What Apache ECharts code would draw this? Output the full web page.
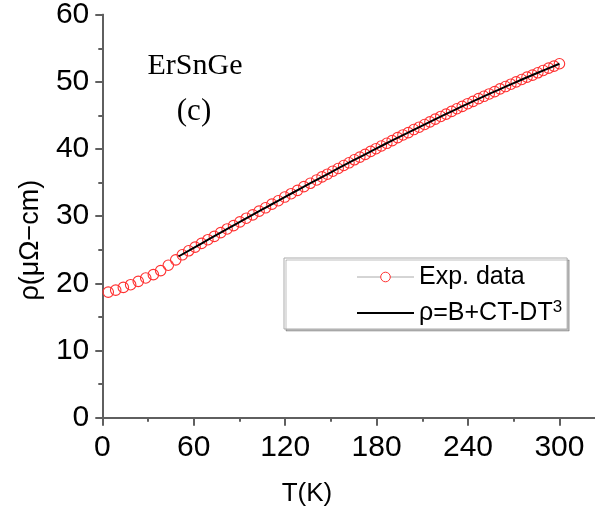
<!DOCTYPE html>
<html><head><meta charset="utf-8">
<script src="https://cdn.jsdelivr.net/npm/echarts@6/dist/echarts.min.js"></script>
<style>html,body{margin:0;padding:0;background:#fff}#c{width:595px;height:513px}</style>
</head><body><div id="c"></div>
<script>
// Experimental data: temperature (K) and resistivity (µΩ-cm)
const expT = [3.9, 8.8, 13.8, 18.6, 23.6, 28.5, 33.5, 38.3, 43.3, 48.2,
  52.5, 56.7, 60.9, 65.1, 69.3, 73.5, 77.7, 81.9, 86.1, 90.3, 94.5, 98.7, 102.9, 107.1, 111.3, 115.5, 119.7, 123.9, 128.1, 132.3, 136.5, 140.7,
  144.2, 147.7, 151.3, 154.8, 158.4, 161.9, 165.4, 169.0, 172.5, 176.1, 179.6, 183.1, 186.7, 190.2, 193.8, 197.3, 200.8, 204.4, 207.9, 211.5,
  215.0, 218.5, 222.1, 225.6, 229.2, 232.7, 236.2, 239.8, 243.3, 246.9, 250.4, 253.9, 257.5, 261.0, 264.6, 268.1, 271.6, 275.2, 278.7, 282.3,
  285.8, 289.3, 292.9, 296.4, 300.0];
const expRho = [18.7, 19.0, 19.4, 19.8, 20.3, 20.8, 21.3, 21.9, 22.7, 23.5,
  24.25, 24.85, 25.4, 25.95, 26.5, 27.0, 27.55, 28.1, 28.6, 29.15, 29.7, 30.2, 30.75, 31.25, 31.8, 32.3, 32.85, 33.35, 33.85, 34.4, 34.9, 35.4,
  35.85, 36.25, 36.7, 37.1, 37.55, 37.95, 38.4, 38.8, 39.2, 39.65, 40.05, 40.45, 40.85, 41.25, 41.7, 42.1, 42.45, 42.9, 43.25, 43.65,
  44.05, 44.45, 44.85, 45.2, 45.6, 46.0, 46.35, 46.75, 47.1, 47.5, 47.85, 48.2, 48.55, 48.95, 49.3, 49.65, 50.0, 50.35, 50.7, 51.0,
  51.35, 51.7, 52.05, 52.35, 52.7];
// Fit curve rho = B + C*T - D*T^3
const fitT = [50, 60, 70, 80, 90, 100, 110, 120, 130, 140, 150, 160, 170, 180, 190, 200, 210, 220, 230, 240, 250, 260, 270, 280, 290, 300];
const fitRho = [24.0, 25.29, 26.57, 27.85, 29.12, 30.38, 31.63, 32.87, 34.11, 35.33, 36.54, 37.74, 38.92, 40.09, 41.25, 42.38, 43.5, 44.61, 45.69, 46.76, 47.8, 48.82, 49.82, 50.8, 51.75, 52.69];
const xMajor = [0, 60, 120, 180, 240, 300];
const xMinor = [30, 90, 150, 210, 270];
const expName = 'Exp. data';
const fitName = 'ρ=B+CT-DT³';

const AX = '#5f5f5f';
const RED = '#ff3030';
const FONT = '"Liberation Sans", Arial, sans-serif';
const gridBox = {left: 102.3, right: 0.5, top: 14.7, bottom: 95.3, outerBoundsMode: 'none'};
const xBase = {min: 0, max: 323, type: 'value', splitLine: {show: false}};
const yBase = {min: 0, max: 60, interval: 10, type: 'value', splitLine: {show: false}};

const chart = echarts.init(document.getElementById('c'), null, {renderer: 'canvas'});
chart.setOption({
  animation: false,
  backgroundColor: '#fff',
  grid: [Object.assign({}, gridBox), Object.assign({}, gridBox)],
  xAxis: [
    Object.assign({}, xBase, {gridIndex: 0, position: 'bottom',
      axisLine: {show: true, lineStyle: {color: AX, width: 2}},
      axisTick: {show: true, inside: false, length: 8, customValues: xMajor, lineStyle: {color: AX, width: 2}},
      axisLabel: {show: true, customValues: xMajor, margin: 15, color: '#000', fontSize: 30, fontFamily: FONT},
      name: 'T(K)', nameLocation: 'middle', nameGap: 63,
      nameTextStyle: {color: '#000', fontSize: 26, fontFamily: FONT, padding: [0, 83, 0, 0]}}),
    Object.assign({}, xBase, {gridIndex: 0, position: 'top',
      axisLine: {show: true, lineStyle: {color: AX, width: 2}},
      axisTick: {show: true, inside: true, length: 7, customValues: xMajor, lineStyle: {color: AX, width: 2}},
      axisLabel: {show: false}}),
    Object.assign({}, xBase, {gridIndex: 1, position: 'bottom',
      axisLine: {show: false},
      axisTick: {show: true, inside: false, length: 4, customValues: xMinor, lineStyle: {color: AX, width: 2}},
      axisLabel: {show: false}}),
    Object.assign({}, xBase, {gridIndex: 1, position: 'top',
      axisLine: {show: false},
      axisTick: {show: true, inside: true, length: 4, customValues: xMinor, lineStyle: {color: AX, width: 2}},
      axisLabel: {show: false}})
  ],
  yAxis: [
    Object.assign({}, yBase, {gridIndex: 0, position: 'left',
      axisLine: {show: true, lineStyle: {color: AX, width: 2}},
      axisTick: {show: true, inside: false, length: 7, lineStyle: {color: AX, width: 2}},
      minorTick: {show: true, splitNumber: 2, length: 4, lineStyle: {color: AX, width: 2}},
      axisLabel: {show: true, margin: 13, color: '#000', fontSize: 30, fontFamily: FONT},
      name: 'ρ(μΩ−cm)', nameLocation: 'middle', nameGap: 58,
      nameTextStyle: {color: '#000', fontSize: 27, fontFamily: FONT, padding: [0, 48, 0, 0]}}),
    Object.assign({}, yBase, {gridIndex: 0, position: 'right',
      axisLine: {show: true, lineStyle: {color: AX, width: 2}},
      axisTick: {show: true, inside: true, length: 7, lineStyle: {color: AX, width: 2}},
      minorTick: {show: true, splitNumber: 2, length: 4, lineStyle: {color: AX, width: 2}},
      axisLabel: {show: false}}),
    Object.assign({}, yBase, {gridIndex: 1, show: false}),
    Object.assign({}, yBase, {gridIndex: 1, show: false, position: 'right'})
  ],
  legend: {
    show: true, orient: 'vertical', left: 284, top: 258,
    padding: [5, 5, 2, 72], itemGap: 8, itemWidth: 57, itemHeight: 12,
    backgroundColor: '#fff', borderColor: '#aaa', borderWidth: 1, borderRadius: 0,
    shadowColor: 'rgba(0,0,0,0.25)', shadowOffsetX: 2, shadowOffsetY: 2, shadowBlur: 0,
    textStyle: {color: '#000', fontSize: 25, fontFamily: FONT, lineHeight: 28,
      rich: {sup: {fontSize: 17, lineHeight: 14, verticalAlign: 'top', fontFamily: FONT, color: '#000'}}},
    formatter: function (name) { return name.replace('³', '{sup|3}'); },
    selectedMode: false,
    data: [
      {name: expName, itemStyle: {color: '#fff', borderColor: RED, borderWidth: 1},
       lineStyle: {color: '#aaa', width: 1, opacity: 1}},
      {name: fitName, itemStyle: {color: 'transparent', borderWidth: 0, opacity: 0},
       lineStyle: {color: '#000', width: 2, opacity: 1}}
    ]
  },
  graphic: [
    {type: 'text', x: 195, y: 66, silent: true,
      style: {text: 'ErSnGe', fill: '#000', font: '30px "Liberation Serif", "Times New Roman", serif', textAlign: 'center', textVerticalAlign: 'middle'}},
    {type: 'text', x: 194, y: 112, silent: true,
      style: {text: '(c)', fill: '#000', font: '31px "Liberation Serif", "Times New Roman", serif', textAlign: 'center', textVerticalAlign: 'middle'}}
  ],
  series: [
    {name: expName, type: 'line', xAxisIndex: 0, yAxisIndex: 0, z: 2,
      data: expT.map((t, i) => [t, expRho[i]]),
      symbol: 'circle', symbolSize: 10.5, showAllSymbol: true,
      lineStyle: {width: 0, opacity: 0},
      itemStyle: {color: 'transparent', borderColor: RED, borderWidth: 1.1},
      emphasis: {disabled: true}, silent: true},
    {name: fitName, type: 'line', xAxisIndex: 0, yAxisIndex: 0, z: 3,
      data: fitT.map((t, i) => [t, fitRho[i]]),
      symbol: 'none', showSymbol: false, smooth: true,
      lineStyle: {color: '#000', width: 2},
      itemStyle: {color: '#000'},
      emphasis: {disabled: true}, silent: true}
  ]
});
</script></body></html>
